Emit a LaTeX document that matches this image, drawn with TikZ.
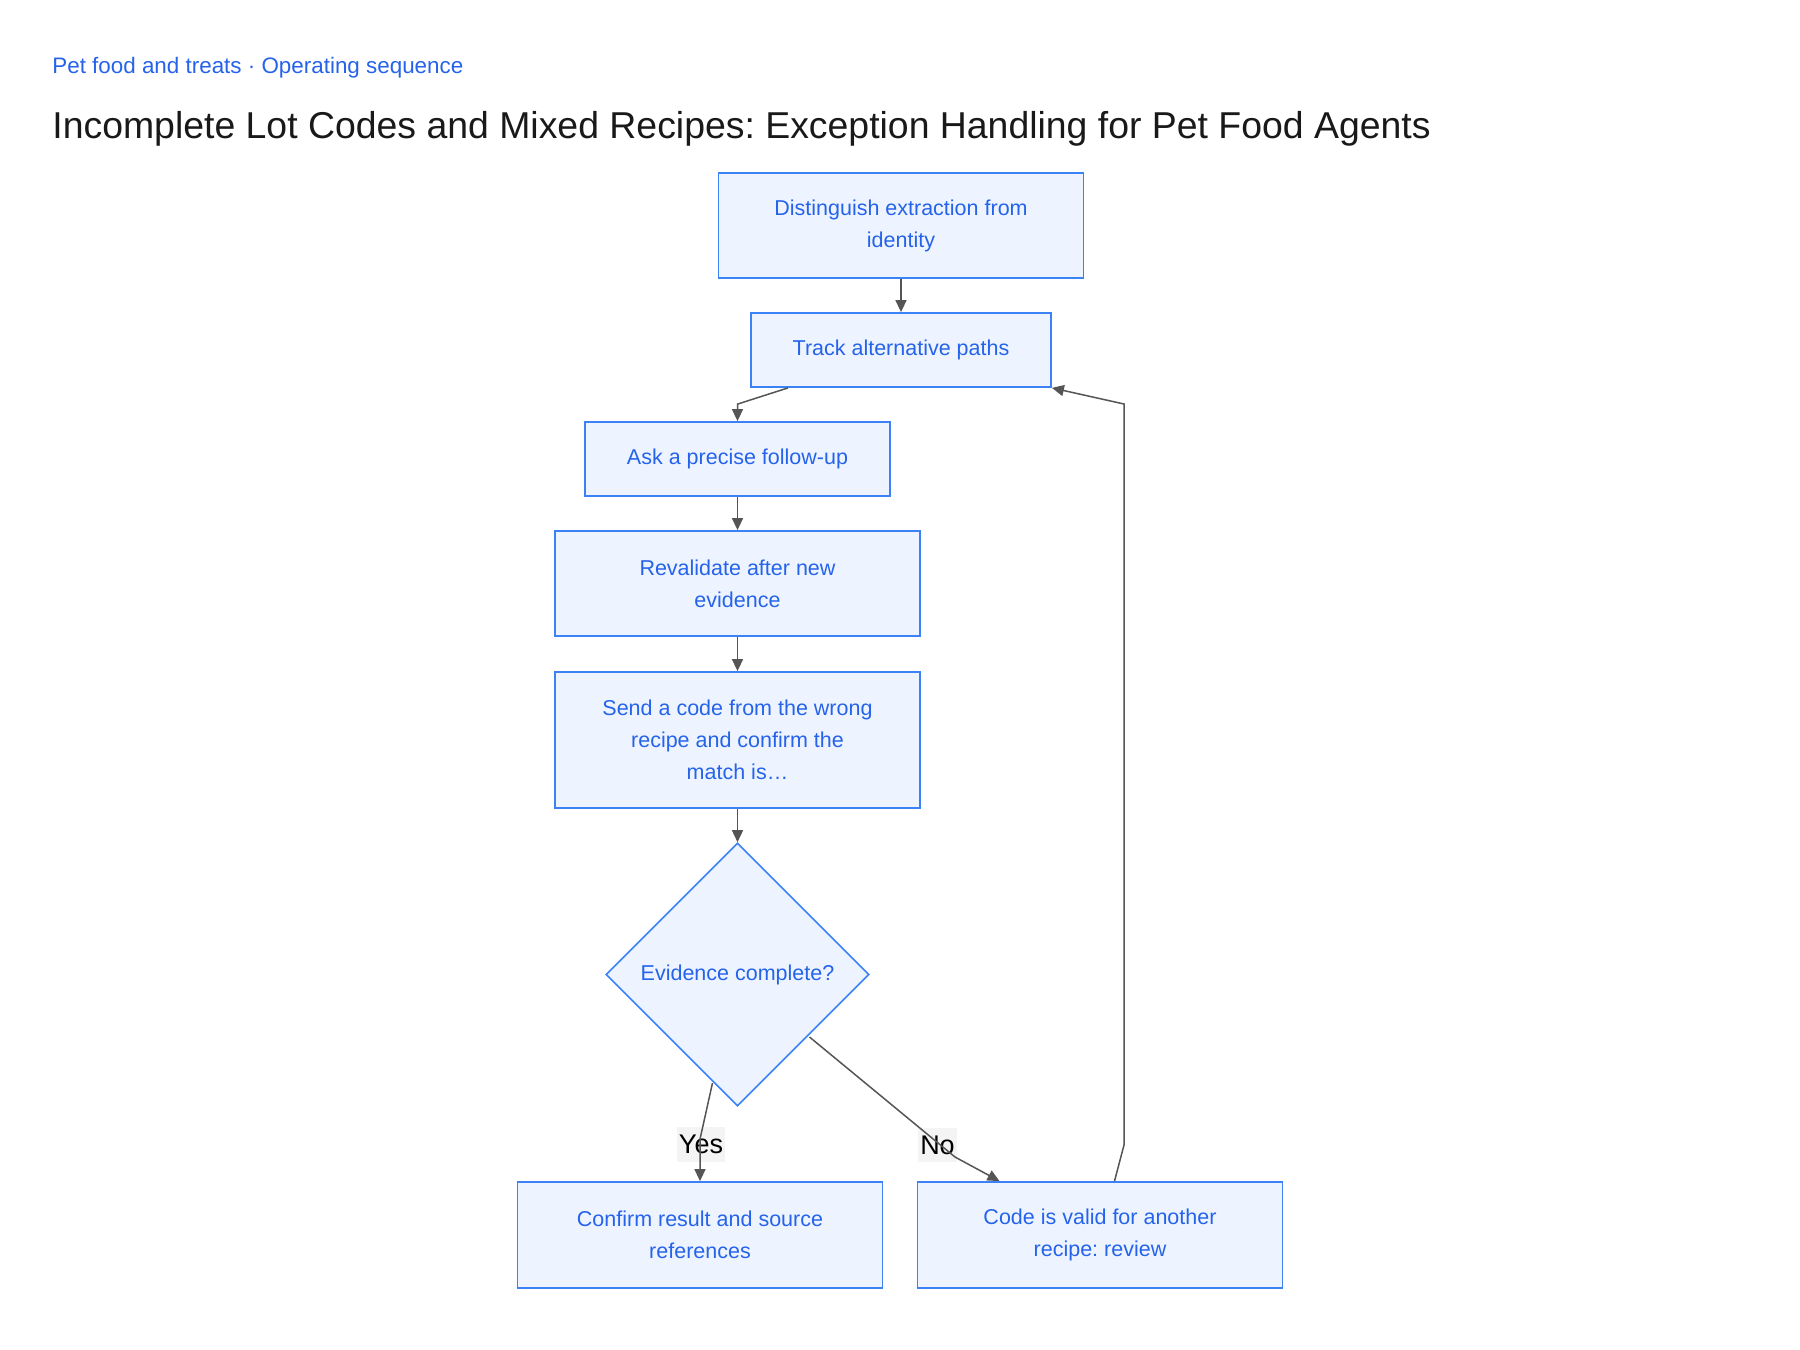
\documentclass[tikz,border=0pt]{standalone}
\usepackage{fontspec}
\setmainfont{Liberation Sans}
\usepackage{xcolor}
\usepackage{tikz}
\usetikzlibrary{positioning}
\usetikzlibrary{shapes.geometric, arrows.meta}
\definecolor{boxfill}{HTML}{EEF4FF}
\definecolor{boxline}{HTML}{3B82F6}
\definecolor{boxtext}{HTML}{2563EB}
\definecolor{edgecol}{HTML}{555555}
\definecolor{lblfill}{HTML}{F2F2F2}
\frenchspacing
\tikzset{%
  stepbox/.style  = {draw=boxline, fill=boxfill, text=boxtext, line width=0.9pt,
    rectangle, align=center, inner sep=0pt, minimum width=182.5pt,
    font=\fontsize{10.75}{16}\selectfont},
  check/.style    = {draw=boxline, fill=boxfill, text=boxtext, line width=0.8pt,
    diamond, aspect=1, inner sep=0pt, minimum width=131.5pt, minimum height=131.5pt,
    font=\fontsize{10.75}{16}\selectfont}, % Decision
  lbl/.style      = {fill=lblfill, fill opacity=0.85, text opacity=1, inner xsep=1.2pt,
    inner ysep=4pt, font=\fontsize{13.5}{16}\selectfont}, % Edge label
  edge/.style     = {draw=edgecol, line width=0.75pt}
}

\begin{document}
\begin{tikzpicture}[x=0.5pt, y=-0.5pt, >={Triangle[length=6pt, width=5.5pt]}]

  \useasboundingbox (0,0) rectangle (1800,1350);

  \node[anchor=base west, inner sep=0pt, text=boxtext, font=\fontsize{11.2}{14}\selectfont] (kicker) at (52,73) {Pet food and treats · Operating sequence};
  \node[anchor=base west, inner sep=0pt, text=black!90, font=\fontsize{18.7}{24}\selectfont] (title) at (52,138) {Incomplete Lot Codes and Mixed Recipes: Exception Handling for Pet Food Agents};

  \node at (901,225.5) [stepbox, minimum height=52.5pt] (distinguish) {Distinguish extraction from\\identity};
  \node [stepbox, below of=distinguish, node distance=62.25pt, minimum width=150pt, minimum height=37pt] (track) {Track alternative paths};
  \node [stepbox, below of=track, node distance=54.5pt, xshift=-81.75pt, minimum width=152.5pt, minimum height=37pt] (ask) {Ask a precise follow-up};
  \node [stepbox, below of=ask, node distance=62.25pt, minimum height=52.5pt] (revalidate) {Revalidate after new\\evidence};
  \node [stepbox, below of=revalidate, node distance=78.25pt, minimum height=68pt] (send) {Send a code from the wrong\\recipe and confirm the\\match is…};
  \node [check, below of=send, node distance=117.25pt] (complete) {Evidence complete?};
  \node [stepbox, below of=complete, node distance=130.25pt, xshift=-18.75pt, minimum height=53pt] (confirm) {Confirm result and source\\references};
  \node [stepbox, right of=confirm, node distance=200pt, minimum height=53pt] (review) {Code is valid for another\\recipe: review};

  % edge labels
  \node[lbl] (yes) at (701,1144.5) {Yes};
  \node[lbl] (no) at (937.5,1145) {No};

  \draw[edge, ->] (distinguish) -- (track);
  \draw[edge, ->] ([xshift=-56.5pt]track.south) -- ([yshift=8.5pt]ask.north) -- (ask.north);
  \draw[edge, ->] (ask) -- (revalidate);
  \draw[edge, ->] (revalidate) -- (send);
  \draw[edge, ->] (send) -- (complete);
  \draw[edge, ->] ([shift={(-25,108.5)}]complete.center) -- ([yshift=21pt]confirm.north) -- (confirm.north);
  \draw[edge, ->] ([shift={(72,62.5)}]complete.center) -- (955,1157) -- ([xshift=-50.25pt]review.north);
  \draw[edge, ->] ([xshift=7.25pt]review.north) -- (1124,1145) -- (1124,404) -- (track.south east);

\end{tikzpicture}
\end{document}
